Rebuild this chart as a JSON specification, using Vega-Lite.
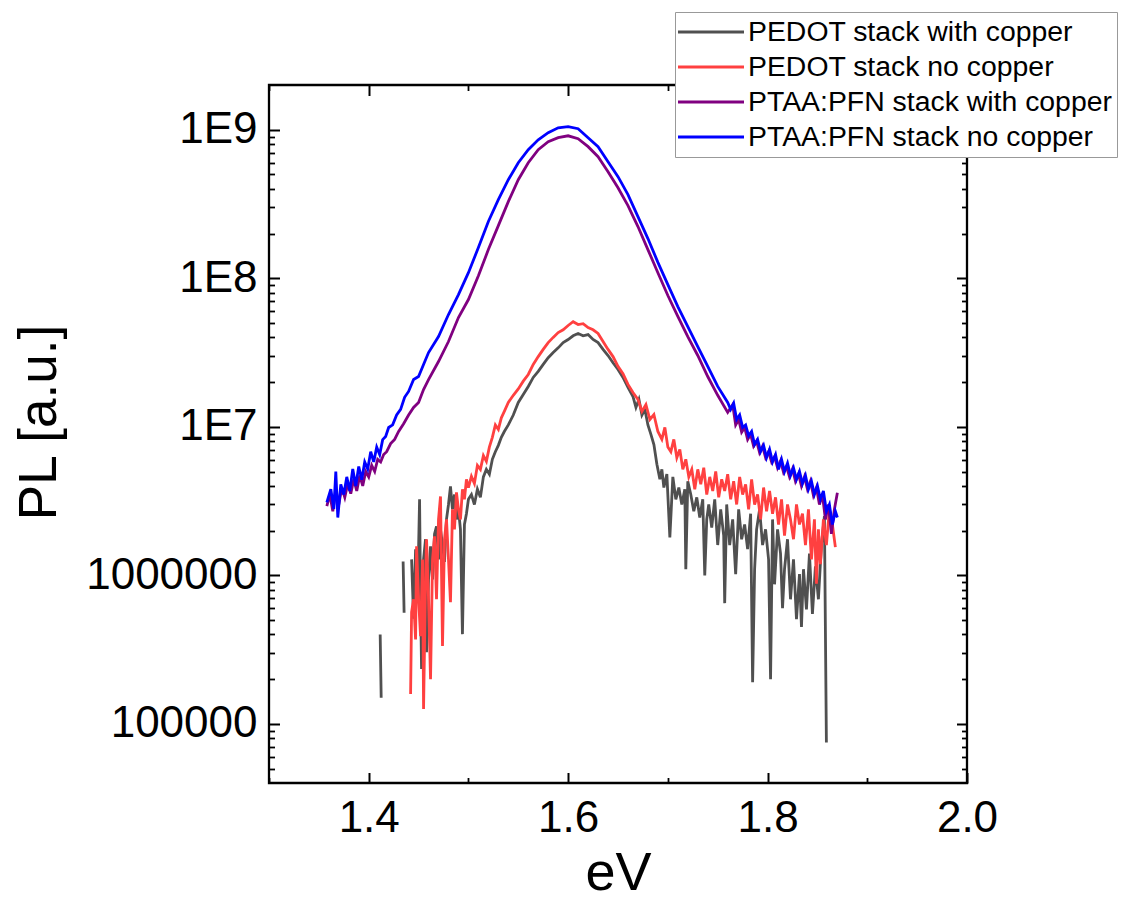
{
  "$schema": "https://vega.github.io/schema/vega-lite/v6.json",
  "width": 698,
  "height": 698,
  "autosize": {"type": "none"},
  "padding": {"left": 269, "top": 85, "right": 157, "bottom": 116},
  "background": "white",
  "config": {
    "font": "Liberation Sans",
    "view": {"stroke": "black", "strokeWidth": 2.3},
    "axis": {"grid": false, "domain": false, "labelFont": "Liberation Sans", "titleFont": "Liberation Sans", "tickColor": "black", "labelColor": "black", "titleColor": "black", "titleFontWeight": "normal"}
  },
  "datasets": {
    "pedotCu": [
      {"eV": 1.4115, "PL": 4.0e5}, {"eV": 1.4125, "PL": 1.5e5}, {"eV": 1.42, "PL": null},
      {"eV": 1.4345, "PL": 1.24e6}, {"eV": 1.4355, "PL": 5.6e5}, {"eV": 1.438, "PL": null},
      {"eV": 1.443, "PL": 1.28e6}, {"eV": 1.445, "PL": 5.1e5}, {"eV": 1.447, "PL": 1.5e6}, {"eV": 1.449, "PL": 6.9e5},
      {"eV": 1.451, "PL": 3.25e6}, {"eV": 1.452, "PL": 6.9e5}, {"eV": 1.453, "PL": 2.34e5}, {"eV": 1.455, "PL": 1.28e6},
      {"eV": 1.457, "PL": 1.75e6}, {"eV": 1.458, "PL": 3.04e5}, {"eV": 1.46, "PL": 9.4e5}, {"eV": 1.462, "PL": 1.57e6},
      {"eV": 1.464, "PL": 9.4e5}, {"eV": 1.466, "PL": 1.9e6}, {"eV": 1.468, "PL": 2.14e6}, {"eV": 1.47, "PL": 1.28e6},
      {"eV": 1.472, "PL": 2.04e6}, {"eV": 1.474, "PL": 1.6e6}, {"eV": 1.476, "PL": 1.23e6}, {"eV": 1.478, "PL": 2.38e6},
      {"eV": 1.48, "PL": 3.0e6}, {"eV": 1.482, "PL": 3.97e6}, {"eV": 1.484, "PL": 2.78e6}, {"eV": 1.486, "PL": 3.5e6},
      {"eV": 1.488, "PL": 2.38e6}, {"eV": 1.49, "PL": 2.78e6}, {"eV": 1.492, "PL": 2.04e6}, {"eV": 1.494, "PL": 4.02e5},
      {"eV": 1.496, "PL": 2.2e6}, {"eV": 1.498, "PL": 2.6e6}, {"eV": 1.5, "PL": 3.25e6}, {"eV": 1.503, "PL": 3.5e6},
      {"eV": 1.506, "PL": 3.0e6}, {"eV": 1.509, "PL": 3.8e6}, {"eV": 1.512, "PL": 3.35e6}, {"eV": 1.515, "PL": 4.6e6},
      {"eV": 1.518, "PL": 5.17e6}, {"eV": 1.521, "PL": 4.8e6}, {"eV": 1.524, "PL": 6.04e6}, {"eV": 1.527, "PL": 6.8e6},
      {"eV": 1.53, "PL": 7.5e6}, {"eV": 1.533, "PL": 8.5e6}, {"eV": 1.536, "PL": 9.3e6}, {"eV": 1.54, "PL": 1.03e7},
      {"eV": 1.545, "PL": 1.2e7}, {"eV": 1.55, "PL": 1.46e7}, {"eV": 1.555, "PL": 1.65e7}, {"eV": 1.56, "PL": 1.87e7},
      {"eV": 1.565, "PL": 2.15e7}, {"eV": 1.57, "PL": 2.36e7}, {"eV": 1.575, "PL": 2.63e7}, {"eV": 1.58, "PL": 2.92e7},
      {"eV": 1.585, "PL": 3.16e7}, {"eV": 1.59, "PL": 3.4e7}, {"eV": 1.595, "PL": 3.69e7}, {"eV": 1.6, "PL": 3.87e7},
      {"eV": 1.605, "PL": 4.1e7}, {"eV": 1.61, "PL": 4.25e7}, {"eV": 1.615, "PL": 4.1e7}, {"eV": 1.62, "PL": 4.18e7},
      {"eV": 1.625, "PL": 3.87e7}, {"eV": 1.63, "PL": 3.69e7}, {"eV": 1.635, "PL": 3.32e7}, {"eV": 1.64, "PL": 3.02e7},
      {"eV": 1.645, "PL": 2.7e7}, {"eV": 1.65, "PL": 2.43e7}, {"eV": 1.655, "PL": 2.15e7}, {"eV": 1.66, "PL": 1.84e7},
      {"eV": 1.665, "PL": 1.6e7}, {"eV": 1.668, "PL": 1.35e7}, {"eV": 1.671, "PL": 1.53e7}, {"eV": 1.674, "PL": 1.2e7},
      {"eV": 1.677, "PL": 1.31e7}, {"eV": 1.68, "PL": 1.03e7}, {"eV": 1.683, "PL": 8.9e6}, {"eV": 1.686, "PL": 7.6e6},
      {"eV": 1.689, "PL": 5.6e6}, {"eV": 1.692, "PL": 4.43e6}, {"eV": 1.694, "PL": 5.17e6}, {"eV": 1.696, "PL": 3.9e6},
      {"eV": 1.699, "PL": 4.8e6}, {"eV": 1.702, "PL": 1.8e6}, {"eV": 1.705, "PL": 4.6e6}, {"eV": 1.708, "PL": 3.25e6},
      {"eV": 1.711, "PL": 3.9e6}, {"eV": 1.714, "PL": 3.0e6}, {"eV": 1.717, "PL": 3.8e6}, {"eV": 1.718, "PL": 1.1e6},
      {"eV": 1.72, "PL": 4.3e6}, {"eV": 1.723, "PL": 3.5e6}, {"eV": 1.726, "PL": 2.7e6}, {"eV": 1.729, "PL": 3.35e6},
      {"eV": 1.732, "PL": 2.45e6}, {"eV": 1.735, "PL": 3.25e6}, {"eV": 1.737, "PL": 1.0e6}, {"eV": 1.739, "PL": 2.38e6},
      {"eV": 1.741, "PL": 3.0e6}, {"eV": 1.744, "PL": 2.1e6}, {"eV": 1.747, "PL": 3.25e6}, {"eV": 1.75, "PL": 1.6e6},
      {"eV": 1.753, "PL": 2.78e6}, {"eV": 1.756, "PL": 1.85e6}, {"eV": 1.757, "PL": 6.5e5}, {"eV": 1.759, "PL": 3.0e6},
      {"eV": 1.762, "PL": 1.6e6}, {"eV": 1.765, "PL": 2.38e6}, {"eV": 1.768, "PL": 1.02e6}, {"eV": 1.771, "PL": 2.78e6},
      {"eV": 1.774, "PL": 1.75e6}, {"eV": 1.777, "PL": 2.2e6}, {"eV": 1.78, "PL": 1.5e6}, {"eV": 1.783, "PL": 2.6e6},
      {"eV": 1.785, "PL": 1.91e5}, {"eV": 1.787, "PL": 1.1e6}, {"eV": 1.789, "PL": 2.04e6}, {"eV": 1.792, "PL": 2.78e6},
      {"eV": 1.795, "PL": 1.6e6}, {"eV": 1.798, "PL": 2.04e6}, {"eV": 1.801, "PL": 1.28e6}, {"eV": 1.803, "PL": 2.0e5},
      {"eV": 1.805, "PL": 2.38e6}, {"eV": 1.807, "PL": 8.7e5}, {"eV": 1.81, "PL": 2.04e6}, {"eV": 1.813, "PL": 1.4e6},
      {"eV": 1.815, "PL": 6.0e5}, {"eV": 1.817, "PL": 1.1e6}, {"eV": 1.82, "PL": 1.75e6}, {"eV": 1.823, "PL": 6.9e5},
      {"eV": 1.826, "PL": 1.28e6}, {"eV": 1.829, "PL": 5.07e5}, {"eV": 1.832, "PL": 1.02e6}, {"eV": 1.834, "PL": 4.5e5},
      {"eV": 1.836, "PL": 1.1e6}, {"eV": 1.839, "PL": 5.9e5}, {"eV": 1.842, "PL": 1.4e6}, {"eV": 1.845, "PL": 5.5e5},
      {"eV": 1.848, "PL": 1.15e6}, {"eV": 1.851, "PL": 6.9e5}, {"eV": 1.854, "PL": 1.6e6}, {"eV": 1.857, "PL": 2.5e6},
      {"eV": 1.859, "PL": 7.5e4}
    ],
    "pedotNoCu": [
      {"eV": 1.442, "PL": 1.59e5}, {"eV": 1.443, "PL": 5.65e5}, {"eV": 1.445, "PL": 6.9e5}, {"eV": 1.447, "PL": 3.7e5},
      {"eV": 1.448, "PL": 1.57e6}, {"eV": 1.45, "PL": 6.9e5}, {"eV": 1.452, "PL": 3.89e5}, {"eV": 1.454, "PL": 1.28e6},
      {"eV": 1.455, "PL": 1.26e5}, {"eV": 1.457, "PL": 9.4e5}, {"eV": 1.458, "PL": 1.75e6}, {"eV": 1.46, "PL": 6.9e5},
      {"eV": 1.462, "PL": 2.0e5}, {"eV": 1.464, "PL": 1.28e6}, {"eV": 1.466, "PL": 1.83e6}, {"eV": 1.468, "PL": 6.9e5},
      {"eV": 1.47, "PL": 2.38e6}, {"eV": 1.472, "PL": 3.4e6}, {"eV": 1.474, "PL": 3.34e5}, {"eV": 1.476, "PL": 1.75e6},
      {"eV": 1.478, "PL": 2.38e6}, {"eV": 1.48, "PL": 1.28e6}, {"eV": 1.482, "PL": 6.59e5}, {"eV": 1.484, "PL": 2.78e6},
      {"eV": 1.486, "PL": 2.04e6}, {"eV": 1.488, "PL": 3.62e6}, {"eV": 1.49, "PL": 2.78e6}, {"eV": 1.492, "PL": 2.38e6},
      {"eV": 1.494, "PL": 3.79e6}, {"eV": 1.496, "PL": 3.25e6}, {"eV": 1.498, "PL": 4.43e6}, {"eV": 1.5, "PL": 3.9e6},
      {"eV": 1.503, "PL": 4.64e6}, {"eV": 1.506, "PL": 4.15e6}, {"eV": 1.509, "PL": 5.5e6}, {"eV": 1.512, "PL": 5.17e6},
      {"eV": 1.515, "PL": 6.4e6}, {"eV": 1.518, "PL": 5.85e6}, {"eV": 1.521, "PL": 7.3e6}, {"eV": 1.524, "PL": 8.5e6},
      {"eV": 1.527, "PL": 1.03e7}, {"eV": 1.53, "PL": 9.6e6}, {"eV": 1.533, "PL": 1.15e7}, {"eV": 1.536, "PL": 1.27e7},
      {"eV": 1.54, "PL": 1.46e7}, {"eV": 1.545, "PL": 1.63e7}, {"eV": 1.55, "PL": 1.8e7}, {"eV": 1.555, "PL": 2.03e7},
      {"eV": 1.56, "PL": 2.25e7}, {"eV": 1.565, "PL": 2.63e7}, {"eV": 1.57, "PL": 2.97e7}, {"eV": 1.575, "PL": 3.32e7},
      {"eV": 1.58, "PL": 3.69e7}, {"eV": 1.585, "PL": 4.0e7}, {"eV": 1.59, "PL": 4.31e7}, {"eV": 1.595, "PL": 4.5e7},
      {"eV": 1.6, "PL": 4.81e7}, {"eV": 1.605, "PL": 5.1e7}, {"eV": 1.61, "PL": 4.88e7}, {"eV": 1.615, "PL": 4.95e7},
      {"eV": 1.62, "PL": 4.65e7}, {"eV": 1.625, "PL": 4.5e7}, {"eV": 1.63, "PL": 4.25e7}, {"eV": 1.635, "PL": 3.75e7},
      {"eV": 1.64, "PL": 3.32e7}, {"eV": 1.645, "PL": 2.97e7}, {"eV": 1.65, "PL": 2.55e7}, {"eV": 1.655, "PL": 2.28e7},
      {"eV": 1.66, "PL": 1.93e7}, {"eV": 1.665, "PL": 1.7e7}, {"eV": 1.67, "PL": 1.53e7}, {"eV": 1.674, "PL": 1.27e7},
      {"eV": 1.678, "PL": 1.41e7}, {"eV": 1.682, "PL": 1.12e7}, {"eV": 1.686, "PL": 1.21e7}, {"eV": 1.69, "PL": 9.3e6},
      {"eV": 1.694, "PL": 8.23e6}, {"eV": 1.697, "PL": 9.9e6}, {"eV": 1.7, "PL": 7.3e6}, {"eV": 1.703, "PL": 6.8e6},
      {"eV": 1.706, "PL": 8.23e6}, {"eV": 1.709, "PL": 6.2e6}, {"eV": 1.712, "PL": 7.05e6}, {"eV": 1.715, "PL": 5.17e6},
      {"eV": 1.718, "PL": 6.04e6}, {"eV": 1.721, "PL": 4.6e6}, {"eV": 1.724, "PL": 5.17e6}, {"eV": 1.727, "PL": 3.8e6},
      {"eV": 1.73, "PL": 5.17e6}, {"eV": 1.733, "PL": 4.1e6}, {"eV": 1.736, "PL": 5.3e6}, {"eV": 1.739, "PL": 3.5e6},
      {"eV": 1.742, "PL": 4.6e6}, {"eV": 1.745, "PL": 3.7e6}, {"eV": 1.748, "PL": 5.0e6}, {"eV": 1.751, "PL": 3.35e6},
      {"eV": 1.754, "PL": 4.43e6}, {"eV": 1.757, "PL": 3.7e6}, {"eV": 1.76, "PL": 4.8e6}, {"eV": 1.763, "PL": 3.25e6},
      {"eV": 1.766, "PL": 4.3e6}, {"eV": 1.769, "PL": 3.0e6}, {"eV": 1.772, "PL": 4.6e6}, {"eV": 1.775, "PL": 3.5e6},
      {"eV": 1.778, "PL": 4.1e6}, {"eV": 1.781, "PL": 2.78e6}, {"eV": 1.784, "PL": 4.43e6}, {"eV": 1.787, "PL": 3.0e6},
      {"eV": 1.79, "PL": 3.5e6}, {"eV": 1.793, "PL": 2.38e6}, {"eV": 1.796, "PL": 3.9e6}, {"eV": 1.799, "PL": 2.7e6},
      {"eV": 1.802, "PL": 3.7e6}, {"eV": 1.805, "PL": 2.6e6}, {"eV": 1.808, "PL": 3.35e6}, {"eV": 1.811, "PL": 2.2e6},
      {"eV": 1.814, "PL": 3.25e6}, {"eV": 1.817, "PL": 1.85e6}, {"eV": 1.82, "PL": 3.0e6}, {"eV": 1.823, "PL": 2.38e6},
      {"eV": 1.826, "PL": 1.75e6}, {"eV": 1.829, "PL": 3.0e6}, {"eV": 1.832, "PL": 2.2e6}, {"eV": 1.835, "PL": 2.6e6},
      {"eV": 1.838, "PL": 1.6e6}, {"eV": 1.841, "PL": 2.78e6}, {"eV": 1.844, "PL": 1.28e6}, {"eV": 1.847, "PL": 2.38e6},
      {"eV": 1.849, "PL": 8.8e5}, {"eV": 1.851, "PL": 2.04e6}, {"eV": 1.853, "PL": 1.19e6}, {"eV": 1.856, "PL": 2.38e6},
      {"eV": 1.859, "PL": 1.6e6}, {"eV": 1.862, "PL": 2.78e6}, {"eV": 1.865, "PL": 2.2e6}, {"eV": 1.868, "PL": 1.55e6}
    ],
    "ptaaCu": [
      {"eV": 1.358, "PL": 2.92e6}, {"eV": 1.361, "PL": 3.5e6}, {"eV": 1.364, "PL": 2.7e6}, {"eV": 1.367, "PL": 3.8e6},
      {"eV": 1.37, "PL": 3.0e6}, {"eV": 1.373, "PL": 3.9e6}, {"eV": 1.376, "PL": 3.35e6}, {"eV": 1.379, "PL": 4.15e6},
      {"eV": 1.382, "PL": 3.55e6}, {"eV": 1.385, "PL": 4.43e6}, {"eV": 1.388, "PL": 3.7e6}, {"eV": 1.391, "PL": 4.7e6},
      {"eV": 1.394, "PL": 4.0e6}, {"eV": 1.397, "PL": 5.0e6}, {"eV": 1.4, "PL": 4.6e6}, {"eV": 1.403, "PL": 5.5e6},
      {"eV": 1.406, "PL": 5.0e6}, {"eV": 1.409, "PL": 6.04e6}, {"eV": 1.412, "PL": 5.8e6}, {"eV": 1.415, "PL": 6.5e6},
      {"eV": 1.418, "PL": 6.8e6}, {"eV": 1.422, "PL": 7.7e6}, {"eV": 1.426, "PL": 8.23e6}, {"eV": 1.43, "PL": 9.3e6},
      {"eV": 1.435, "PL": 1.05e7}, {"eV": 1.44, "PL": 1.2e7}, {"eV": 1.445, "PL": 1.35e7}, {"eV": 1.45, "PL": 1.46e7},
      {"eV": 1.455, "PL": 1.78e7}, {"eV": 1.46, "PL": 2.08e7}, {"eV": 1.47, "PL": 2.75e7}, {"eV": 1.48, "PL": 3.75e7},
      {"eV": 1.49, "PL": 5.44e7}, {"eV": 1.5, "PL": 7.19e7}, {"eV": 1.51, "PL": 1.04e8}, {"eV": 1.52, "PL": 1.56e8},
      {"eV": 1.53, "PL": 2.26e8}, {"eV": 1.54, "PL": 3.28e8}, {"eV": 1.55, "PL": 4.61e8}, {"eV": 1.56, "PL": 6.0e8},
      {"eV": 1.57, "PL": 7.34e8}, {"eV": 1.58, "PL": 8.31e8}, {"eV": 1.59, "PL": 8.84e8}, {"eV": 1.6, "PL": 9.1e8},
      {"eV": 1.61, "PL": 8.7e8}, {"eV": 1.62, "PL": 7.69e8}, {"eV": 1.63, "PL": 6.58e8}, {"eV": 1.64, "PL": 5.22e8},
      {"eV": 1.65, "PL": 4.07e8}, {"eV": 1.66, "PL": 3.08e8}, {"eV": 1.67, "PL": 2.23e8}, {"eV": 1.68, "PL": 1.56e8},
      {"eV": 1.69, "PL": 1.09e8}, {"eV": 1.7, "PL": 7.65e7}, {"eV": 1.71, "PL": 5.53e7}, {"eV": 1.72, "PL": 4.05e7},
      {"eV": 1.73, "PL": 3.02e7}, {"eV": 1.74, "PL": 2.18e7}, {"eV": 1.75, "PL": 1.63e7}, {"eV": 1.76, "PL": 1.25e7},
      {"eV": 1.765, "PL": 1.41e7}, {"eV": 1.768, "PL": 1.03e7}, {"eV": 1.771, "PL": 1.12e7}, {"eV": 1.774, "PL": 9.2e6},
      {"eV": 1.777, "PL": 9.9e6}, {"eV": 1.78, "PL": 8.2e6}, {"eV": 1.783, "PL": 8.9e6}, {"eV": 1.786, "PL": 7.4e6},
      {"eV": 1.789, "PL": 8.0e6}, {"eV": 1.792, "PL": 6.7e6}, {"eV": 1.795, "PL": 7.4e6}, {"eV": 1.798, "PL": 6.2e6},
      {"eV": 1.801, "PL": 6.8e6}, {"eV": 1.804, "PL": 5.8e6}, {"eV": 1.807, "PL": 6.3e6}, {"eV": 1.81, "PL": 5.3e6},
      {"eV": 1.813, "PL": 5.9e6}, {"eV": 1.816, "PL": 4.94e6}, {"eV": 1.819, "PL": 5.4e6}, {"eV": 1.822, "PL": 4.6e6},
      {"eV": 1.825, "PL": 5.2e6}, {"eV": 1.828, "PL": 4.3e6}, {"eV": 1.831, "PL": 4.8e6}, {"eV": 1.834, "PL": 4.0e6},
      {"eV": 1.837, "PL": 4.6e6}, {"eV": 1.84, "PL": 3.8e6}, {"eV": 1.843, "PL": 4.3e6}, {"eV": 1.846, "PL": 3.45e6},
      {"eV": 1.849, "PL": 3.9e6}, {"eV": 1.852, "PL": 3.0e6}, {"eV": 1.855, "PL": 3.5e6}, {"eV": 1.858, "PL": 2.38e6},
      {"eV": 1.861, "PL": 3.0e6}, {"eV": 1.864, "PL": 1.9e6}, {"eV": 1.867, "PL": 2.78e6}, {"eV": 1.87, "PL": 3.6e6}
    ],
    "ptaaNoCu": [
      {"eV": 1.358, "PL": 3.1e6}, {"eV": 1.362, "PL": 3.8e6}, {"eV": 1.365, "PL": 2.8e6}, {"eV": 1.367, "PL": 5.0e6},
      {"eV": 1.369, "PL": 2.45e6}, {"eV": 1.372, "PL": 4.1e6}, {"eV": 1.375, "PL": 3.5e6}, {"eV": 1.378, "PL": 4.6e6},
      {"eV": 1.381, "PL": 3.7e6}, {"eV": 1.384, "PL": 5.2e6}, {"eV": 1.387, "PL": 4.0e6}, {"eV": 1.39, "PL": 5.4e6},
      {"eV": 1.393, "PL": 4.4e6}, {"eV": 1.396, "PL": 5.8e6}, {"eV": 1.399, "PL": 5.2e6}, {"eV": 1.402, "PL": 6.8e6},
      {"eV": 1.405, "PL": 5.8e6}, {"eV": 1.408, "PL": 7.3e6}, {"eV": 1.411, "PL": 6.5e6}, {"eV": 1.414, "PL": 8.2e6},
      {"eV": 1.417, "PL": 8.6e6}, {"eV": 1.42, "PL": 9.9e6}, {"eV": 1.424, "PL": 1.03e7}, {"eV": 1.428, "PL": 1.2e7},
      {"eV": 1.432, "PL": 1.31e7}, {"eV": 1.436, "PL": 1.58e7}, {"eV": 1.44, "PL": 1.73e7}, {"eV": 1.445, "PL": 2.08e7},
      {"eV": 1.45, "PL": 2.18e7}, {"eV": 1.455, "PL": 2.63e7}, {"eV": 1.46, "PL": 3.16e7}, {"eV": 1.47, "PL": 4.05e7},
      {"eV": 1.48, "PL": 5.7e7}, {"eV": 1.49, "PL": 7.77e7}, {"eV": 1.5, "PL": 1.09e8}, {"eV": 1.51, "PL": 1.61e8},
      {"eV": 1.52, "PL": 2.41e8}, {"eV": 1.53, "PL": 3.38e8}, {"eV": 1.54, "PL": 4.61e8}, {"eV": 1.55, "PL": 6.0e8},
      {"eV": 1.56, "PL": 7.34e8}, {"eV": 1.57, "PL": 8.56e8}, {"eV": 1.58, "PL": 9.55e8}, {"eV": 1.59, "PL": 1.03e9},
      {"eV": 1.6, "PL": 1.05e9}, {"eV": 1.61, "PL": 1.016e9}, {"eV": 1.62, "PL": 8.84e8}, {"eV": 1.63, "PL": 7.69e8},
      {"eV": 1.64, "PL": 6.09e8}, {"eV": 1.65, "PL": 4.83e8}, {"eV": 1.66, "PL": 3.66e8}, {"eV": 1.67, "PL": 2.6e8},
      {"eV": 1.68, "PL": 1.85e8}, {"eV": 1.69, "PL": 1.28e8}, {"eV": 1.7, "PL": 9.07e7}, {"eV": 1.71, "PL": 6.45e7},
      {"eV": 1.72, "PL": 4.73e7}, {"eV": 1.73, "PL": 3.47e7}, {"eV": 1.74, "PL": 2.55e7}, {"eV": 1.75, "PL": 1.87e7},
      {"eV": 1.76, "PL": 1.46e7}, {"eV": 1.763, "PL": 1.31e7}, {"eV": 1.766, "PL": 1.44e7}, {"eV": 1.769, "PL": 1.12e7},
      {"eV": 1.772, "PL": 1.2e7}, {"eV": 1.775, "PL": 9.9e6}, {"eV": 1.778, "PL": 1.03e7}, {"eV": 1.781, "PL": 8.7e6},
      {"eV": 1.784, "PL": 9.3e6}, {"eV": 1.787, "PL": 7.6e6}, {"eV": 1.79, "PL": 8.23e6}, {"eV": 1.793, "PL": 6.8e6},
      {"eV": 1.796, "PL": 7.5e6}, {"eV": 1.799, "PL": 6.2e6}, {"eV": 1.802, "PL": 7.05e6}, {"eV": 1.805, "PL": 5.8e6},
      {"eV": 1.808, "PL": 6.5e6}, {"eV": 1.811, "PL": 5.17e6}, {"eV": 1.814, "PL": 6.04e6}, {"eV": 1.817, "PL": 5.0e6},
      {"eV": 1.82, "PL": 5.7e6}, {"eV": 1.823, "PL": 4.7e6}, {"eV": 1.826, "PL": 5.3e6}, {"eV": 1.829, "PL": 4.43e6},
      {"eV": 1.832, "PL": 5.0e6}, {"eV": 1.835, "PL": 4.15e6}, {"eV": 1.838, "PL": 4.7e6}, {"eV": 1.841, "PL": 3.8e6},
      {"eV": 1.844, "PL": 4.3e6}, {"eV": 1.847, "PL": 3.5e6}, {"eV": 1.85, "PL": 4.0e6}, {"eV": 1.853, "PL": 3.25e6},
      {"eV": 1.856, "PL": 3.7e6}, {"eV": 1.859, "PL": 2.7e6}, {"eV": 1.862, "PL": 3.0e6}, {"eV": 1.865, "PL": 2.2e6},
      {"eV": 1.868, "PL": 2.7e6}, {"eV": 1.87, "PL": 2.45e6}
    ],
    "ref": [{"eV": 1.6, "PL": 1e7}]
  },
  "resolve": {"axis": {"x": "independent", "y": "independent"}},
  "layer": [
    {
      "data": {"name": "pedotCu"},
      "mark": {"type": "line", "strokeWidth": 2.8, "invalid": "break-paths-filter-domains", "clip": true},
      "encoding": {
        "x": {"field": "eV", "type": "quantitative",
          "scale": {"domain": [1.3, 2.0], "nice": false, "zero": false},
          "axis": {"orient": "bottom", "values": [1.4, 1.6, 1.8, 2.0], "format": ".1f", "ticks": false,
            "labelFontSize": 44, "labelPadding": 48, "labelBaseline": "alphabetic", "labelFlush": false, "labelOverlap": false, "labelBound": false,
            "title": "eV", "titleFontSize": 54, "titleX": 349, "titleY": 106, "titleBaseline": "alphabetic", "titleAlign": "center", "titleAngle": 0}},
        "y": {"field": "PL", "type": "quantitative",
          "scale": {"type": "log", "domain": [40000, 2000000000], "nice": false},
          "axis": {"orient": "left", "values": [100000, 1000000, 10000000, 100000000, 1000000000], "ticks": false,
            "labelExpr": "datum.value >= 10000000 ? '1E' + format(log(datum.value)/LN10, '.0f') : format(datum.value, 'd')",
            "labelFontSize": 44, "labelPadding": 12, "labelAlign": "right", "labelBaseline": "middle", "labelFlush": false, "labelOverlap": false, "labelBound": false,
            "title": "PL [a.u.]", "titleFontSize": 53, "titleAngle": 270, "titleX": -214, "titleY": 337, "titleAlign": "center", "titleBaseline": "alphabetic"}},
        "color": {"datum": "PEDOT stack with copper", "type": "nominal",
          "scale": {"domain": ["PEDOT stack with copper", "PEDOT stack no copper", "PTAA:PFN stack with copper", "PTAA:PFN stack no copper"],
                    "range": ["#505050", "#ff4040", "#800080", "#0000ff"]},
          "legend": {"title": null, "orient": "none", "legendX": 406, "legendY": -73,
            "symbolType": "M-2.5,0L2.5,0", "symbolSize": 697, "symbolStrokeWidth": 3, "symbolOffset": 16,
            "labelOffset": 22, "labelFontSize": 28.4, "labelFont": "Liberation Sans", "labelColor": "black", "labelLimit": 0,
            "rowPadding": 5, "padding": 5, "strokeColor": "#999999", "fillColor": "white"}}
      }
    },
    {
      "data": {"name": "pedotNoCu"},
      "mark": {"type": "line", "strokeWidth": 2.8, "invalid": "break-paths-filter-domains", "clip": true},
      "encoding": {
        "x": {"field": "eV", "type": "quantitative", "axis": null},
        "y": {"field": "PL", "type": "quantitative", "axis": null},
        "color": {"datum": "PEDOT stack no copper", "type": "nominal"}
      }
    },
    {
      "data": {"name": "ptaaCu"},
      "mark": {"type": "line", "strokeWidth": 2.8, "invalid": "break-paths-filter-domains", "clip": true},
      "encoding": {
        "x": {"field": "eV", "type": "quantitative", "axis": null},
        "y": {"field": "PL", "type": "quantitative", "axis": null},
        "color": {"datum": "PTAA:PFN stack with copper", "type": "nominal"}
      }
    },
    {
      "data": {"name": "ptaaNoCu"},
      "mark": {"type": "line", "strokeWidth": 2.8, "invalid": "break-paths-filter-domains", "clip": true},
      "encoding": {
        "x": {"field": "eV", "type": "quantitative", "axis": null},
        "y": {"field": "PL", "type": "quantitative", "axis": null},
        "color": {"datum": "PTAA:PFN stack no copper", "type": "nominal"}
      }
    },
    {
      "data": {"name": "ref"},
      "mark": {"type": "point", "opacity": 0},
      "encoding": {
        "x": {"field": "eV", "type": "quantitative", "axis": {"orient": "bottom", "values": [1.4, 1.6, 1.8, 2.0], "labels": false, "title": null, "tickSize": -10.5, "tickWidth": 2}},
        "y": {"field": "PL", "type": "quantitative", "axis": {"orient": "left", "values": [100000, 1000000, 10000000, 100000000, 1000000000], "labels": false, "title": null, "tickSize": -10.5, "tickWidth": 2}}
      }
    },
    {
      "data": {"name": "ref"},
      "mark": {"type": "point", "opacity": 0},
      "encoding": {
        "x": {"field": "eV", "type": "quantitative", "axis": {"orient": "bottom", "values": [1.3, 1.5, 1.7, 1.9], "labels": false, "title": null, "tickSize": -5.5, "tickWidth": 1.8}},
        "y": {"field": "PL", "type": "quantitative", "axis": {"orient": "left", "values": [50000, 60000, 70000, 80000, 90000, 200000, 300000, 400000, 500000, 600000, 700000, 800000, 900000, 2000000, 3000000, 4000000, 5000000, 6000000, 7000000, 8000000, 9000000, 20000000, 30000000, 40000000, 50000000, 60000000, 70000000, 80000000, 90000000, 200000000, 300000000, 400000000, 500000000, 600000000, 700000000, 800000000, 900000000], "labels": false, "title": null, "tickSize": -5.5, "tickWidth": 1.8}}
      }
    },
    {
      "data": {"name": "ref"},
      "mark": {"type": "point", "opacity": 0},
      "encoding": {
        "x": {"field": "eV", "type": "quantitative", "axis": {"orient": "top", "values": [1.4, 1.6, 1.8, 2.0], "labels": false, "title": null, "tickSize": -10.5, "tickWidth": 2}},
        "y": {"field": "PL", "type": "quantitative", "axis": {"orient": "right", "values": [100000, 1000000, 10000000, 100000000, 1000000000], "labels": false, "title": null, "tickSize": -10.5, "tickWidth": 2}}
      }
    },
    {
      "data": {"name": "ref"},
      "mark": {"type": "point", "opacity": 0},
      "encoding": {
        "x": {"field": "eV", "type": "quantitative", "axis": {"orient": "top", "values": [1.3, 1.5, 1.7, 1.9], "labels": false, "title": null, "tickSize": -5.5, "tickWidth": 1.8}},
        "y": {"field": "PL", "type": "quantitative", "axis": {"orient": "right", "values": [50000, 60000, 70000, 80000, 90000, 200000, 300000, 400000, 500000, 600000, 700000, 800000, 900000, 2000000, 3000000, 4000000, 5000000, 6000000, 7000000, 8000000, 9000000, 20000000, 30000000, 40000000, 50000000, 60000000, 70000000, 80000000, 90000000, 200000000, 300000000, 400000000, 500000000, 600000000, 700000000, 800000000, 900000000], "labels": false, "title": null, "tickSize": -5.5, "tickWidth": 1.8}}
      }
    }
  ]
}
